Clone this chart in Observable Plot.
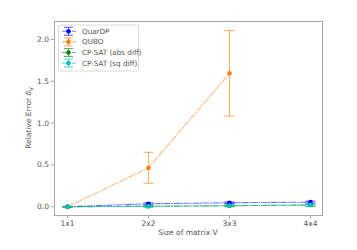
<!DOCTYPE html>
<html>
<head>
<meta charset="utf-8">
<script src="https://cdn.jsdelivr.net/npm/d3@7"></script>
<script src="https://cdn.jsdelivr.net/npm/@observablehq/plot@0.6"></script>
<style>
  html, body { margin: 0; padding: 0; background: #fff; }
  #chart svg { font-family: "DejaVu Sans", sans-serif; }
</style>
</head>
<body>
<div id="chart"></div>
<script>
const sizes = ["1x1", "2x2", "3x3", "4x4"];
const seriesNames = ["QuarDP", "QUBO", "CP-SAT (abs diff)", "CP-SAT (sq diff)"];
const seriesColors = ["#0000ff", "#ff7f0e", "#008000", "#00bfbf"];
const quardpMean = [0, 0.035, 0.048, 0.055];
const quardpErr = [0, 0.012, 0.01, 0.012];
const quboMean = [0, 0.465, 1.595];
const quboErr = [0, 0.185, 0.512];
const cpAbsMean = [0, 0.005, 0.012, 0.02];
const cpAbsErr = [0, 0.008, 0.01, 0.012];
const cpSqMean = [0, 0.005, 0.012, 0.02];
const cpSqErr = [0, 0.01, 0.012, 0.015];
const yTicks = [0, 0.5, 1.0, 1.5, 2.0];

const means = [quardpMean, quboMean, cpAbsMean, cpSqMean];
const errs = [quardpErr, quboErr, cpAbsErr, cpSqErr];
const rows = [];
means.forEach((m, s) => m.forEach((v, i) => rows.push({
  series: seriesNames[s], size: sizes[i], y: v, lo: v - errs[s][i], hi: v + errs[s][i]
})));

const capSymbol = { draw(ctx, size) { ctx.moveTo(-5, 0); ctx.lineTo(5, 0); } };
const dash = "5.5,1.6,1,1.6";

const marks = [Plot.frame({ stroke: "#a8a8a8", strokeWidth: 1 })];
seriesNames.forEach((name, s) => {
  const d = rows.filter(r => r.series === name);
  const c = seriesColors[s];
  marks.push(
    Plot.line(d, { x: "size", y: "y", stroke: c, strokeOpacity: 0.55, strokeWidth: 1.1, strokeDasharray: dash }),
    Plot.ruleX(d, { x: "size", y1: "lo", y2: "hi", stroke: c, strokeOpacity: 0.6, strokeWidth: 1.1 }),
    Plot.dot(d, { x: "size", y: "lo", symbol: capSymbol, stroke: c, strokeOpacity: 0.6, strokeWidth: 1.1, r: 3 }),
    Plot.dot(d, { x: "size", y: "hi", symbol: capSymbol, stroke: c, strokeOpacity: 0.6, strokeWidth: 1.1, r: 3 }),
    Plot.dot(d, { x: "size", y: "y", fill: c, r: 2.3 })
  );
});
marks.push(
  Plot.axisX({ tickSize: 3.5, tickPadding: 2, fontSize: 7.5, label: null, color: "#555", stroke: "#a8a8a8" }),
  Plot.axisY({ ticks: yTicks, tickSize: 3.5, tickPadding: 2, fontSize: 7.5, tickFormat: d3.format(".1f"), label: null, color: "#555", stroke: "#a8a8a8" })
);

const plot = Plot.plot({
  width: 357,
  height: 250,
  marginLeft: 54,
  marginRight: 35,
  marginTop: 21,
  marginBottom: 35,
  style: { fontFamily: "DejaVu Sans, sans-serif", color: "#555" },
  x: { type: "point", domain: sizes, padding: 0.1543 },
  y: { domain: [-0.105, 2.215] },
  marks
});
document.getElementById("chart").appendChild(plot);

const svg = d3.select(plot);
// axis labels
svg.append("text").attr("x", 188).attr("y", 235).attr("text-anchor", "middle")
  .attr("font-size", 7.5).attr("fill", "#555").text("Size of matrix V");
const yl = svg.append("text").attr("transform", "translate(31,118) rotate(-90)")
  .attr("text-anchor", "middle").attr("font-size", 7.5).attr("fill", "#555");
yl.append("tspan").text("Relative Error ");
yl.append("tspan").attr("font-style", "italic").text("δ");
yl.append("tspan").attr("font-size", 5.5).attr("dy", 2).text("V");

// legend
const lg = svg.append("g").attr("text-anchor", "start");
lg.append("rect").attr("x", 58.5).attr("y", 25).attr("width", 80).attr("height", 46)
  .attr("rx", 2).attr("fill", "#fff").attr("fill-opacity", 0.8).attr("stroke", "#d0d0d0").attr("stroke-width", 0.8);
seriesNames.forEach((name, s) => {
  const y = 31.3 + s * 10.6;
  const c = seriesColors[s];
  const g = lg.append("g");
  g.append("line").attr("x1", 62).attr("x2", 76).attr("y1", y).attr("y2", y)
    .attr("stroke", c).attr("stroke-opacity", 0.55).attr("stroke-width", 1.1).attr("stroke-dasharray", dash);
  g.append("line").attr("x1", 68.5).attr("x2", 68.5).attr("y1", y - 4).attr("y2", y + 4)
    .attr("stroke", c).attr("stroke-opacity", 0.6).attr("stroke-width", 1.1);
  [y - 4, y + 4].forEach(cy => g.append("line").attr("x1", 64).attr("x2", 73).attr("y1", cy).attr("y2", cy)
    .attr("stroke", c).attr("stroke-opacity", 0.6).attr("stroke-width", 1.1));
  g.append("circle").attr("cx", 68.5).attr("cy", y).attr("r", 2.3).attr("fill", c);
  g.append("text").attr("x", 82).attr("y", y).attr("dy", "0.35em").attr("font-size", 7.2)
    .attr("text-anchor", "start").attr("fill", "#555").text(name);
});
</script>
</body>
</html>
